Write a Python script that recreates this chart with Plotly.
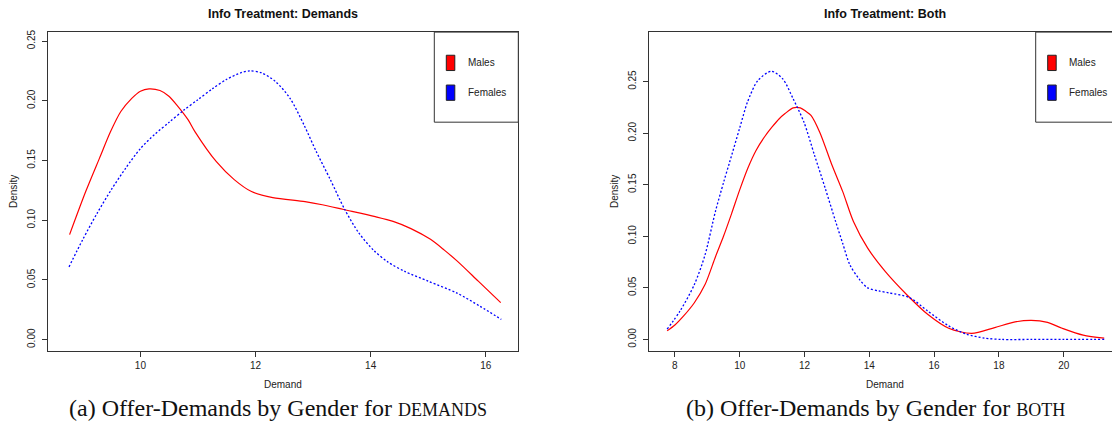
import plotly.graph_objects as go

# ---------------- data ----------------
dem_male_x = [8.77, 9.05, 9.29, 9.48, 9.66, 9.85, 10.0, 10.15, 10.34, 10.49, 10.64, 10.83, 10.95,
              11.32, 11.63, 11.93, 12.30, 12.86, 13.16, 13.53, 14.08, 14.39, 14.70, 15.04, 15.28,
              15.50, 15.87, 16.26]
dem_male_y = [0.088, 0.124, 0.152, 0.174, 0.191, 0.202, 0.208, 0.210, 0.2086, 0.204, 0.196, 0.184,
              0.174, 0.149, 0.134, 0.124, 0.119, 0.1156, 0.113, 0.109, 0.103, 0.099, 0.093, 0.084,
              0.075, 0.066, 0.049, 0.031]

dem_fem_x = [8.76, 9.0, 9.25, 9.5, 9.75, 10.0, 10.25, 10.5, 10.75, 11.0, 11.25, 11.5, 11.75, 11.9,
             12.1, 12.35, 12.6, 12.85, 13.05, 13.3, 13.55, 13.8, 14.05, 14.3, 14.6, 15.0, 15.5,
             15.9, 16.27]
dem_fem_y = [0.061, 0.084, 0.106, 0.126, 0.144, 0.160, 0.172, 0.182, 0.192, 0.201, 0.210, 0.218,
             0.2235, 0.225, 0.2235, 0.216, 0.202, 0.179, 0.158, 0.134, 0.109, 0.089, 0.075, 0.065,
             0.057, 0.049, 0.039, 0.028, 0.017]

both_male_x = [7.76, 8.0, 8.27, 8.6, 8.93, 9.25, 9.5, 9.75, 10.0, 10.25, 10.5, 10.78, 11.0, 11.22,
               11.4, 11.65, 11.87, 12.05, 12.2, 12.47, 12.85, 13.18, 13.51, 13.95, 14.49, 15.15,
               15.8, 16.45, 17.16, 17.87, 18.5, 19.0, 19.5, 19.95, 20.6, 21.25]
both_male_y = [0.0083, 0.014, 0.0228, 0.0356, 0.0532, 0.080, 0.100, 0.122, 0.145, 0.166, 0.183,
               0.197, 0.206, 0.214, 0.219, 0.2245, 0.2245, 0.221, 0.2173, 0.201, 0.1689, 0.1433,
               0.1144, 0.0885, 0.066, 0.0436, 0.0244, 0.0109, 0.0058, 0.0115, 0.0170, 0.0185,
               0.0165, 0.0109, 0.0042, 0.0013]

both_fem_x = [7.76, 8.16, 8.6, 8.93, 9.25, 9.5, 9.69, 10.0, 10.24, 10.56, 10.98, 11.33, 11.65,
              11.98, 12.31, 12.64, 12.96, 13.18, 13.40, 13.7, 13.95, 14.3, 14.6, 15.25, 15.8,
              16.45, 17.0, 17.55, 18.09, 19.0, 20.0, 21.25]
both_fem_y = [0.0099, 0.0276, 0.0532, 0.082, 0.124, 0.152, 0.172, 0.205, 0.2301, 0.251, 0.26,
              0.2526, 0.2333, 0.2109, 0.1785, 0.1465, 0.1144, 0.093, 0.0724, 0.058, 0.050, 0.047,
              0.0452, 0.0404, 0.0276, 0.0131, 0.0051, 0.0013, 0.0, 0.0, 0.0, 0.0]

dem_xticks = [10, 12, 14, 16]
both_xticks = [8, 10, 12, 14, 16, 18, 20]
dem_yticks = [0.00, 0.05, 0.10, 0.15, 0.20, 0.25]
both_yticks = [0.00, 0.05, 0.10, 0.15, 0.20, 0.25]

titles = ["Info Treatment: Demands", "Info Treatment: Both"]
legend_labels = ["Males", "Females"]
colors = ["#FF0000", "#0000FF"]
xlab = "Demand"
ylab = "Density"
captions = [("(a) Offer-Demands by Gender for ", "DEMANDS"),
            ("(b) Offer-Demands by Gender for ", "BOTH")]

# ---------------- layout helpers (pixels -> paper) ----------------
W, H = 1112, 438
def px(x):
    return x / W
def py(y):
    return 1 - y / H

TOP, BOT = 29.3, 350.7
L1, R1 = 48.3, 518.0
L2 = 649.3
R2_virtual = 1120.0

FONT = "Liberation Sans"
AX = "#333333"

fig = go.Figure()

line_m = dict(color=colors[0], width=1.2, shape="spline", smoothing=0.8)
line_f = dict(color=colors[1], width=1.3, dash="2px,2px", shape="spline", smoothing=0.8)

fig.add_trace(go.Scatter(x=dem_male_x, y=dem_male_y, mode="lines", line=line_m,
                         xaxis="x", yaxis="y", showlegend=False))
fig.add_trace(go.Scatter(x=dem_fem_x, y=dem_fem_y, mode="lines", line=line_f,
                         xaxis="x", yaxis="y", showlegend=False))
fig.add_trace(go.Scatter(x=both_male_x, y=both_male_y, mode="lines", line=line_m,
                         xaxis="x2", yaxis="y2", showlegend=False))
fig.add_trace(go.Scatter(x=both_fem_x, y=both_fem_y, mode="lines", line=line_f,
                         xaxis="x2", yaxis="y2", showlegend=False))

axis_common = dict(showline=True, linecolor=AX, linewidth=1, ticks="outside", ticklen=5,
                   tickcolor=AX, tickwidth=1, showgrid=False, zeroline=False,
                   tickfont=dict(family=FONT, size=10, color="#222"))

fig.update_layout(
    width=W, height=H,
    margin=dict(l=0, r=0, t=0, b=0),
    paper_bgcolor="white", plot_bgcolor="white",
    showlegend=False,
    xaxis=dict(domain=[px(L1), px(R1)], range=[8.40, 16.56], tickvals=dem_xticks,
               mirror=True, anchor="y", **axis_common),
    yaxis=dict(domain=[py(BOT), py(TOP)], range=[-0.0097, 0.2575], tickvals=dem_yticks,
               tickformat=".2f", tickangle=-90, mirror=True, anchor="x",
               ticklabelstandoff=3, **axis_common),
    xaxis2=dict(domain=[px(L2), 1.0], range=[7.21, 21.49], tickvals=both_xticks,
                mirror=True, anchor="y2", **axis_common),
    yaxis2=dict(domain=[py(BOT), py(TOP)], range=[-0.0115, 0.298], tickvals=both_yticks,
                tickformat=".2f", tickangle=-90, mirror=False, anchor="x2",
                ticklabelstandoff=3, **axis_common),
)

annotations = []
shapes = []

# titles and axis titles
for cx, title in [((L1 + R1) / 2, titles[0]), ((L2 + R2_virtual) / 2, titles[1])]:
    annotations.append(dict(x=px(cx), y=py(11), xref="paper", yref="paper", text="<b>%s</b>" % title,
                            showarrow=False, xanchor="center", yanchor="middle",
                            font=dict(family=FONT, size=12.5, color="#111")))
    annotations.append(dict(x=px(cx), y=py(384), xref="paper", yref="paper", text=xlab,
                            showarrow=False, xanchor="center", yanchor="middle",
                            font=dict(family=FONT, size=10, color="#222")))
for lx in [L1, L2]:
    annotations.append(dict(x=px(lx - 35), y=py((TOP + BOT) / 2), xref="paper", yref="paper",
                            text=ylab, textangle=-90, showarrow=False,
                            xanchor="center", yanchor="middle",
                            font=dict(family=FONT, size=10, color="#222")))

# legends (R-style boxed legend with filled squares)
for lg_left in [434.3, 1035.7]:
    shapes.append(dict(type="rect", xref="paper", yref="paper",
                       x0=px(lg_left), x1=px(lg_left + 84), y0=py(120), y1=py(TOP),
                       line=dict(color=AX, width=1), fillcolor="white", layer="above"))
    for i, (lab, col) in enumerate(zip(legend_labels, colors)):
        cy = 60.3 + 30 * i
        shapes.append(dict(type="rect", xref="paper", yref="paper",
                           x0=px(lg_left + 12), x1=px(lg_left + 20.5),
                           y0=py(cy + 7.7), y1=py(cy - 7.7),
                           line=dict(color="#222", width=1), fillcolor=col, layer="above"))
        annotations.append(dict(x=px(lg_left + 31.5), y=py(cy), xref="paper", yref="paper",
                                text=lab, showarrow=False, xanchor="left", yanchor="middle",
                                font=dict(family=FONT, size=10, color="#222")))

# captions (small caps emulated with smaller capitals)
cap_font = dict(family="Liberation Serif", size=24, color="#111")
for cx, (main, sc) in zip([278, 875], captions):
    annotations.append(dict(x=px(cx), y=py(408), xref="paper", yref="paper",
                            text="%s<span style='font-size:18px'>%s</span>" % (main, sc),
                            showarrow=False, xanchor="center", yanchor="middle", font=cap_font))

fig.update_layout(annotations=annotations, shapes=shapes)

fig.write_html("out.html")
